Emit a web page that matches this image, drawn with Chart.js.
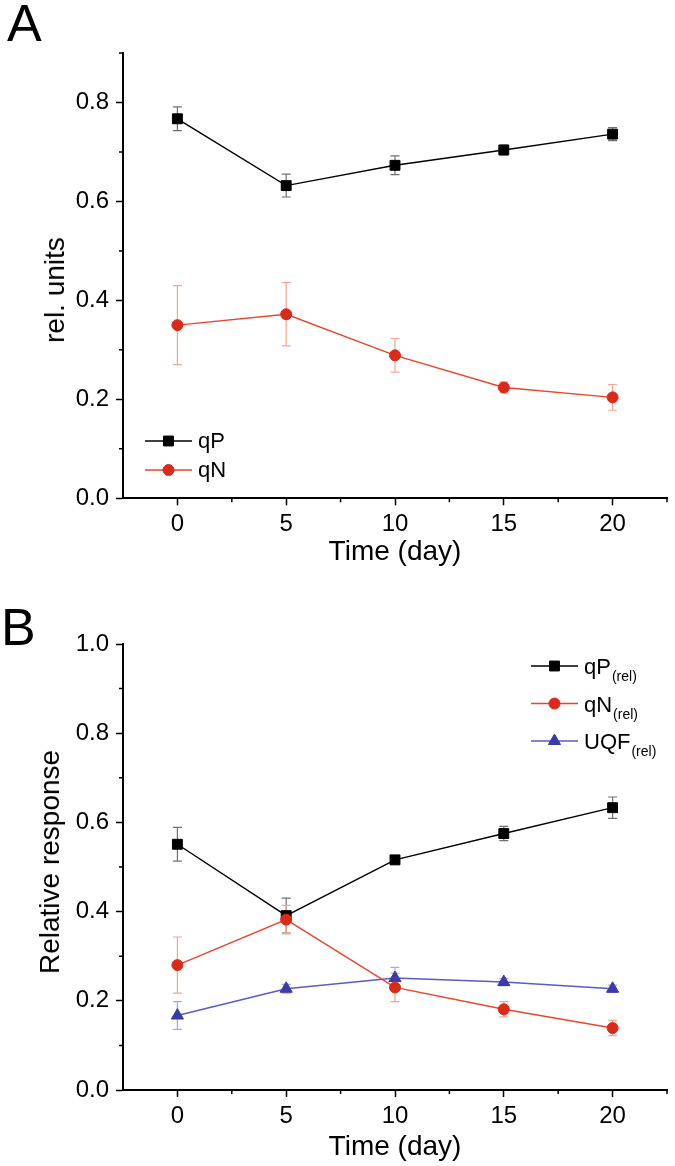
<!DOCTYPE html>
<html>
<head>
<meta charset="utf-8">
<title>qP / qN / UQF over time</title>
<script src="https://cdn.jsdelivr.net/npm/chart.js@4.4.1/dist/chart.umd.min.js"></script>
<style>
  html, body { margin: 0; padding: 0; background: #fff; }
  body { width: 675px; height: 1166px; position: relative; overflow: hidden;
         font-family: "Liberation Sans", Arial, sans-serif; color: #000; }
  .panel { position: absolute; left: 0; width: 675px; height: 583px; }
  #panelA { top: 0; }
  #panelB { top: 583px; }
  .letter { position: absolute; line-height: 1; font-size: 52px; }
  .ytitle { position: absolute; font-size: 28px; line-height: 28px; white-space: nowrap;
            transform: translate(-50%, -50%) rotate(-90deg); }
</style>
</head>
<body>
<div class="panel" id="panelA"><canvas id="chartA"></canvas></div>
<div class="panel" id="panelB"><canvas id="chartB"></canvas></div>
<div class="letter" style="left:7px;top:-3px">A</div>
<div class="letter" style="left:1px;top:601px">B</div>
<div class="ytitle" style="left:55px;top:290px">rel. units</div>
<div class="ytitle" style="left:50px;top:862px">Relative response</div>

<script>
/* ---------- data ---------- */
var days = [0, 5, 10, 15, 20];
var xTicks = [0, 5, 10, 15, 20];
var xMinor = [2.5, 7.5, 12.5, 17.5, 22.5];

// panel A
var qP_A = [0.767, 0.632, 0.673, 0.704, 0.736];
var qP_A_err = [0.024, 0.023, 0.019, 0.010, 0.013];
var qN_A = [0.350, 0.372, 0.289, 0.224, 0.204];
var qN_A_err = [0.080, 0.064, 0.034, 0.011, 0.026];
var yTicksA = [0, 0.2, 0.4, 0.6, 0.8];
var yMinorA = [0.1, 0.3, 0.5, 0.7, 0.9];

// panel B
var qP_B = [0.551, 0.391, 0.516, 0.575, 0.633];
var qP_B_err = [0.038, 0.039, 0.008, 0.016, 0.024];
var qN_B = [0.280, 0.382, 0.230, 0.181, 0.139];
var qN_B_err = [0.063, 0.032, 0.032, 0.017, 0.017];
var uqf_B = [0.167, 0.227, 0.251, 0.242, 0.227];
var uqf_B_err = [0.031, 0.010, 0.024, 0.008, 0.008];
var yTicksB = [0, 0.2, 0.4, 0.6, 0.8, 1.0];
var yMinorB = [0.1, 0.3, 0.5, 0.7, 0.9];

var FONT = '"Liberation Sans", Arial, sans-serif';
Chart.defaults.font.family = FONT;
Chart.defaults.color = '#000';

function pts(ys) {
  return days.map(function (d, i) { return { x: d, y: ys[i] }; });
}

/* ---------- plugins ---------- */
// vertical error bars with caps, drawn under the lines/markers
var errorBars = {
  id: 'errorBars',
  beforeDatasetsDraw: function (chart) {
    var ctx = chart.ctx, ys = chart.scales.y;
    ctx.save();
    ctx.lineWidth = 1.2;
    chart.data.datasets.forEach(function (ds, i) {
      var meta = chart.getDatasetMeta(i);
      ctx.strokeStyle = ds.errorColor;
      meta.data.forEach(function (pt, j) {
        var v = ds.data[j].y, e = ds.errors[j];
        var top = ys.getPixelForValue(v + e), bot = ys.getPixelForValue(v - e);
        ctx.beginPath();
        ctx.moveTo(pt.x, top); ctx.lineTo(pt.x, bot);
        ctx.moveTo(pt.x - 4.5, top); ctx.lineTo(pt.x + 4.5, top);
        ctx.moveTo(pt.x - 4.5, bot); ctx.lineTo(pt.x + 4.5, bot);
        ctx.stroke();
      });
    });
    ctx.restore();
  }
};

// short outward minor ticks
var minorTicks = {
  id: 'minorTicks',
  afterDraw: function (chart, args, opts) {
    var ctx = chart.ctx, xs = chart.scales.x, ys = chart.scales.y;
    ctx.save();
    ctx.strokeStyle = '#000';
    ctx.lineWidth = 1.5;
    ctx.beginPath();
    opts.x.forEach(function (v) {
      var px = xs.getPixelForValue(v);
      ctx.moveTo(px, xs.top); ctx.lineTo(px, xs.top + 4);
    });
    opts.y.forEach(function (v) {
      var py = ys.getPixelForValue(v);
      ctx.moveTo(ys.right, py); ctx.lineTo(ys.right - 4, py);
    });
    ctx.stroke();
    ctx.restore();
  }
};

// legend inside the plot: line + marker, label with optional subscript
var boxLegend = {
  id: 'boxLegend',
  afterDraw: function (chart, args, opts) {
    var ctx = chart.ctx;
    ctx.save();
    chart.data.datasets.forEach(function (ds, i) {
      var y = opts.y + i * opts.gap;
      ctx.strokeStyle = ds.borderColor;
      ctx.lineWidth = ds.borderWidth;
      ctx.beginPath();
      ctx.moveTo(opts.x, y); ctx.lineTo(opts.x + opts.len, y);
      ctx.stroke();
      ctx.fillStyle = ds.pointBackgroundColor;
      ctx.strokeStyle = ds.pointBorderColor;
      ctx.lineWidth = 1;
      Chart.helpers.drawPoint(ctx, { pointStyle: ds.pointStyle, radius: ds.pointRadius, borderWidth: 1 },
        opts.x + opts.len / 2, y);
      ctx.fillStyle = '#000';
      ctx.textBaseline = 'alphabetic';
      ctx.textAlign = 'left';
      ctx.font = '22px ' + FONT;
      var tx = opts.x + opts.len + opts.textGap;
      ctx.fillText(ds.label, tx, y + opts.base);
      if (ds.sub) {
        var w = ctx.measureText(ds.label).width;
        ctx.font = '14px ' + FONT;
        ctx.fillText(ds.sub, tx + w + 1, y + opts.base + 7);
      }
    });
    ctx.restore();
  }
};

/* ---------- chart factory ---------- */
function makeChart(id, datasets, p) {
  return new Chart(document.getElementById(id), {
    type: 'line',
    data: { datasets: datasets },
    plugins: [errorBars, minorTicks, boxLegend],
    options: {
      responsive: true,
      maintainAspectRatio: false,
      animation: false,
      events: [],
      devicePixelRatio: 1,
      layout: { padding: { top: p.top, right: 5, bottom: 0, left: 0 } },
      plugins: {
        legend: { display: false },
        tooltip: { enabled: false },
        minorTicks: { x: xMinor, y: p.yMinor },
        boxLegend: p.legend
      },
      scales: {
        x: {
          type: 'linear', min: -2.5, max: 22.5,
          afterBuildTicks: function (s) { s.ticks = xTicks.map(function (v) { return { value: v }; }); },
          afterFit: function (s) { s.height = p.xHeight; },
          grid: { display: true, drawOnChartArea: false, drawTicks: true, tickLength: 7,
                  tickWidth: 1.5, tickColor: '#000' },
          border: { display: true, color: '#000', width: 2 },
          ticks: { color: '#000', font: { size: 24 }, padding: 5, maxRotation: 0, autoSkip: false,
                   callback: function (v) { return String(v); } },
          title: { display: true, text: 'Time (day)', color: '#000', font: { size: 28 },
                   padding: { top: 0, bottom: p.xTitlePad } }
        },
        y: {
          type: 'linear', min: 0, max: p.yMax,
          afterBuildTicks: function (s) { s.ticks = p.yTicks.map(function (v) { return { value: v }; }); },
          afterFit: function (s) { s.width = 123; },
          grid: { display: true, drawOnChartArea: false, drawTicks: true, tickLength: 7,
                  tickWidth: 1.5, tickColor: '#000' },
          border: { display: true, color: '#000', width: 2 },
          ticks: { color: '#000', font: { size: 24 }, padding: 7, autoSkip: false,
                   callback: function (v) { return v.toFixed(1); } }
        }
      }
    }
  });
}

function series(label, sub, ys, errs, line, marker, errColor, style, radius, order) {
  return {
    label: label, sub: sub, data: pts(ys), errors: errs, errorColor: errColor,
    borderColor: line, borderWidth: 1.4, tension: 0, fill: false, order: order,
    pointStyle: style, pointRadius: radius, pointBackgroundColor: marker,
    pointBorderColor: marker, pointBorderWidth: 1
  };
}

var BLACK = '#000000', RED_L = '#e8452e', RED_M = '#dc2a1a', BLUE_L = '#5b5bc4', BLUE_M = '#3a3aa8';

makeChart('chartA', [
  series('qP', '', qP_A, qP_A_err, BLACK, BLACK, '#707070', 'rect', 7, 1),
  series('qN', '', qN_A, qN_A_err, RED_L, RED_M, '#f4a594', 'circle', 5.5, 0)
], {
  top: 53, xHeight: 84.7, xTitlePad: 13.6, yMax: 0.9, yTicks: yTicksA, yMinor: yMinorA,
  legend: { x: 145, y: 441, gap: 29, len: 47, textGap: 6, base: 7 }
});

makeChart('chartB', [
  series('qP', '(rel)', qP_B, qP_B_err, BLACK, BLACK, '#707070', 'rect', 7, 1),
  series('qN', '(rel)', qN_B, qN_B_err, RED_L, RED_M, '#f4a594', 'circle', 5.5, 0),
  series('UQF', '(rel)', uqf_B, uqf_B_err, BLUE_L, BLUE_M, '#a8a8e0', 'triangle', 7, 2)
], {
  top: 61, xHeight: 76, xTitlePad: 1.6, yMax: 1.0, yTicks: yTicksB, yMinor: yMinorB,
  legend: { x: 531, y: 83, gap: 37.5, len: 47, textGap: 6, base: 8 }
});
</script>
</body>
</html>
